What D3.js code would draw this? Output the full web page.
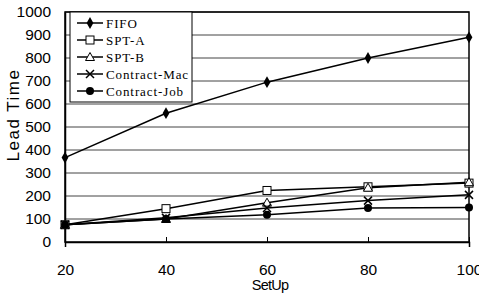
<!DOCTYPE html>
<html>
<head>
<meta charset="utf-8">
<script src="https://cdn.jsdelivr.net/npm/d3@7"></script>
<style>
  body { margin: 0; background: #fff; }
  text { font-family: Arial, "Liberation Sans", sans-serif; }
  text.leg { font-family: "Liberation Serif", serif; }
</style>
</head>
<body>
<div id="chart"></div>
<script>
// data
const setups = [20, 40, 60, 80, 100];
const fifo = [367, 560, 695, 800, 890];
const sptA = [75, 145, 224, 240, 256];
const sptB = [75, 100, 171, 236, 260];
const contractMac = [75, 105, 148, 180, 205];
const contractJob = [75, 100, 118, 148, 150];
const yTicks = [0, 100, 200, 300, 400, 500, 600, 700, 800, 900, 1000];

const series = [
  {name: "FIFO", values: fifo, marker: "diamond"},
  {name: "SPT-A", values: sptA, marker: "square"},
  {name: "SPT-B", values: sptB, marker: "triangle"},
  {name: "Contract-Mac", values: contractMac, marker: "cross"},
  {name: "Contract-Job", values: contractJob, marker: "circle"}
];

const margin = {top: 12, right: 10, bottom: 58, left: 65},
      width = 479 - margin.left - margin.right,
      height = 300 - margin.top - margin.bottom;

const svg = d3.select("#chart")
              .append("svg")
              .attr("width", 479)
              .attr("height", 300)
              .append("g")
              .attr("transform", `translate(${margin.left},${margin.top})`);

const x = d3.scaleLinear().domain([20, 100]).range([0, width]);
const y = d3.scaleLinear().domain([0, 1000]).range([height, 0]);

// grid lines
svg.append("g")
   .selectAll("line")
   .data(yTicks.slice(1))
   .enter()
   .append("line")
   .attr("x1", 0).attr("x2", width)
   .attr("y1", d => y(d)).attr("y2", d => y(d))
   .attr("stroke", "#444")
   .attr("stroke-width", 1);

// frame
svg.append("rect")
   .attr("width", width).attr("height", height)
   .attr("fill", "none").attr("stroke", "#000").attr("stroke-width", 1.5);

// axes
const xAxis = svg.append("g")
   .attr("transform", `translate(0,${height})`)
   .call(d3.axisBottom(x).tickValues(setups).tickSize(5).tickPadding(17));
xAxis.selectAll("line").attr("transform", "translate(0,-5)");

const yAxis = svg.append("g")
   .call(d3.axisLeft(y).tickValues(yTicks).tickFormat(d3.format("d")).tickSize(0).tickPadding(14));

svg.selectAll(".domain").attr("stroke", "#000").attr("stroke-width", 1.5);
svg.selectAll(".tick text").attr("font-size", 15.5).attr("fill", "#000");

svg.append("text")
   .attr("transform", `translate(-46,${height / 2 - 12}) rotate(-90)`)
   .attr("text-anchor", "middle")
   .attr("font-size", 17)
   .attr("letter-spacing", 1.5)
   .text("Lead Time");

svg.append("text")
   .attr("x", x(60) + 3)
   .attr("y", height + 48)
   .attr("text-anchor", "middle")
   .attr("font-size", 14.5)
   .attr("letter-spacing", -0.8)
   .text("SetUp");

// markers
function drawMarker(g, type, cx, cy) {
  if (type === "diamond") {
    g.append("path").attr("d", d3.symbol(d3.symbolDiamond, 40)())
     .attr("transform", `translate(${cx},${cy})`).attr("fill", "#000");
  } else if (type === "square") {
    g.append("rect").attr("x", cx - 4).attr("y", cy - 4).attr("width", 8).attr("height", 8)
     .attr("fill", "#fff").attr("stroke", "#000").attr("stroke-width", 1);
  } else if (type === "triangle") {
    g.append("path").attr("d", "M0,-4.5L4.5,3.5L-4.5,3.5Z")
     .attr("transform", `translate(${cx},${cy})`)
     .attr("fill", "#fff").attr("stroke", "#000").attr("stroke-width", 1);
  } else if (type === "cross") {
    g.append("path").attr("d", "M-4,-4L4,4M-4,4L4,-4")
     .attr("transform", `translate(${cx},${cy})`)
     .attr("stroke", "#000").attr("stroke-width", 1.5);
  } else if (type === "circle") {
    g.append("circle").attr("cx", cx).attr("cy", cy).attr("r", 4).attr("fill", "#000");
  }
}

const line = d3.line().x((d, i) => x(setups[i])).y(d => y(d));

series.forEach(s => {
  svg.append("path")
     .datum(s.values)
     .attr("d", line)
     .attr("fill", "none")
     .attr("stroke", "#000")
     .attr("stroke-width", 1.5);
});
series.forEach(s => {
  const g = svg.append("g");
  s.values.forEach((v, i) => drawMarker(g, s.marker, x(setups[i]), y(v)));
});

// legend
const legend = svg.append("g").attr("transform", "translate(5,0)");
legend.append("rect")
      .attr("width", 122).attr("height", 90)
      .attr("fill", "#fff").attr("stroke", "#000").attr("stroke-width", 1);

series.forEach((s, i) => {
  const ly = 11 + i * 17;
  legend.append("line")
        .attr("x1", 7).attr("x2", 33).attr("y1", ly).attr("y2", ly)
        .attr("stroke", "#000").attr("stroke-width", 1.5);
  drawMarker(legend, s.marker, 20, ly);
  legend.append("text")
        .attr("class", "leg")
        .attr("x", 36).attr("y", ly + 4.5)
        .attr("font-size", 13)
        .attr("letter-spacing", 0.9)
        .text(s.name);
});
</script>
</body>
</html>
